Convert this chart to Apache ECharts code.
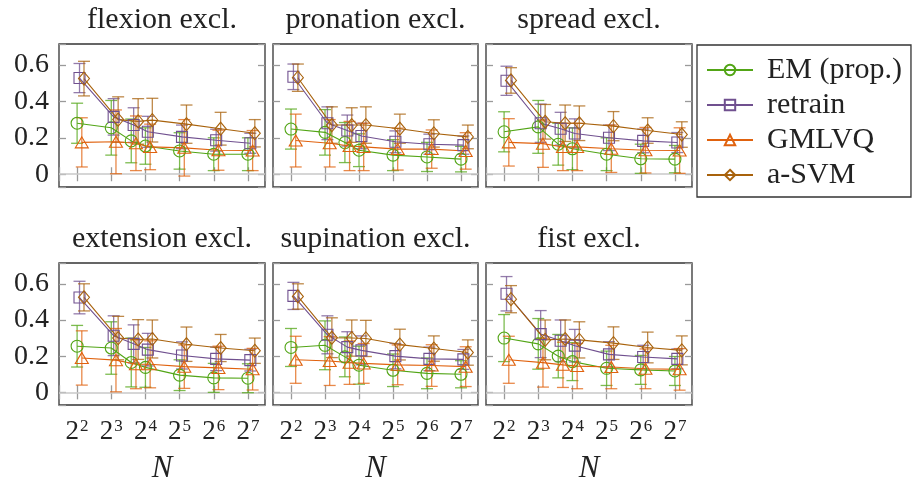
<!DOCTYPE html>
<html>
<head>
<meta charset="utf-8">
<script src="https://cdn.jsdelivr.net/npm/echarts@6/dist/echarts.min.js"></script>
<style>
html, body { margin: 0; background: #fff; }
#container { width: 914px; height: 484px; }
</style>
</head>
<body>
<div id="container"></div>
<script>
// sample sizes and methods
const N = [4, 8, 12, 16, 32, 64, 128];
const methods = ['EM (prop.)', 'retrain', 'GMLVQ', 'a-SVM'];
const colors = ['#52a516', '#70508f', '#e0620e', '#a8620c'];
const symbols = ['circle', 'rect', 'triangle', 'diamond'];
const symbolSizes = [12, 11, [13, 11], [11, 13]];
const dodge = [1, 1.05, 1.1, 1.15];   // small horizontal shift per method
const titles = ['flexion excl.', 'pronation excl.', 'spread excl.',
                'extension excl.', 'supination excl.', 'fist excl.'];

// mean error, rows = methods (EM, retrain, GMLVQ, a-SVM)
const flexionMean = [
    [0.28, 0.255, 0.183, 0.155, 0.128, 0.11, 0.11],
    [0.528, 0.315, 0.27, 0.233, 0.205, 0.187, 0.17],
    [0.175, 0.178, 0.17, 0.15, 0.145, 0.132, 0.13],
    [0.525, 0.30, 0.29, 0.297, 0.275, 0.25, 0.225]
];
const flexionSd = [
    [0.11, 0.15, 0.12, 0.10, 0.10, 0.09, 0.09],
    [0.08, 0.10, 0.095, 0.085, 0.065, 0.06, 0.055],
    [0.135, 0.175, 0.15, 0.125, 0.155, 0.11, 0.11],
    [0.095, 0.125, 0.125, 0.12, 0.105, 0.09, 0.075]
];
const pronationMean = [
    [0.248, 0.23, 0.174, 0.132, 0.105, 0.095, 0.083],
    [0.535, 0.28, 0.24, 0.21, 0.178, 0.165, 0.16],
    [0.185, 0.17, 0.155, 0.15, 0.138, 0.138, 0.128],
    [0.53, 0.27, 0.27, 0.27, 0.25, 0.224, 0.205]
];
const pronationSd = [
    [0.11, 0.125, 0.11, 0.09, 0.085, 0.08, 0.07],
    [0.07, 0.09, 0.085, 0.07, 0.06, 0.055, 0.05],
    [0.145, 0.13, 0.135, 0.13, 0.115, 0.105, 0.10],
    [0.075, 0.10, 0.095, 0.10, 0.08, 0.075, 0.065]
];
const spreadMean = [
    [0.233, 0.26, 0.165, 0.14, 0.11, 0.085, 0.083],
    [0.513, 0.28, 0.25, 0.224, 0.20, 0.183, 0.174],
    [0.175, 0.168, 0.15, 0.15, 0.14, 0.132, 0.13],
    [0.515, 0.288, 0.28, 0.28, 0.264, 0.24, 0.218]
];
const spreadSd = [
    [0.11, 0.145, 0.115, 0.115, 0.09, 0.08, 0.075],
    [0.08, 0.105, 0.09, 0.08, 0.07, 0.065, 0.055],
    [0.13, 0.13, 0.13, 0.13, 0.13, 0.125, 0.125],
    [0.07, 0.095, 0.10, 0.095, 0.08, 0.07, 0.07]
];
const extensionMean = [
    [0.255, 0.245, 0.165, 0.138, 0.095, 0.08, 0.078],
    [0.524, 0.313, 0.268, 0.236, 0.204, 0.185, 0.178],
    [0.19, 0.178, 0.155, 0.155, 0.142, 0.135, 0.128],
    [0.525, 0.30, 0.292, 0.295, 0.266, 0.245, 0.23]
];
const extensionSd = [
    [0.115, 0.145, 0.135, 0.11, 0.085, 0.08, 0.08],
    [0.09, 0.11, 0.105, 0.09, 0.075, 0.065, 0.06],
    [0.15, 0.175, 0.135, 0.13, 0.12, 0.12, 0.115],
    [0.075, 0.12, 0.11, 0.105, 0.095, 0.075, 0.07]
];
const supinationMean = [
    [0.248, 0.26, 0.196, 0.15, 0.122, 0.105, 0.10],
    [0.533, 0.318, 0.25, 0.232, 0.20, 0.185, 0.182],
    [0.18, 0.173, 0.164, 0.16, 0.152, 0.148, 0.142],
    [0.53, 0.302, 0.30, 0.298, 0.264, 0.242, 0.22]
];
const supinationSd = [
    [0.105, 0.135, 0.11, 0.105, 0.09, 0.085, 0.075],
    [0.075, 0.105, 0.085, 0.08, 0.07, 0.065, 0.055],
    [0.13, 0.135, 0.12, 0.11, 0.11, 0.115, 0.11],
    [0.07, 0.11, 0.10, 0.10, 0.085, 0.07, 0.07]
];
const fistMean = [
    [0.30, 0.268, 0.20, 0.17, 0.133, 0.124, 0.118],
    [0.545, 0.322, 0.285, 0.258, 0.21, 0.195, 0.185],
    [0.18, 0.164, 0.152, 0.145, 0.14, 0.13, 0.127],
    [0.515, 0.29, 0.295, 0.29, 0.272, 0.248, 0.232]
];
const fistSd = [
    [0.13, 0.14, 0.12, 0.105, 0.095, 0.08, 0.08],
    [0.095, 0.13, 0.115, 0.09, 0.07, 0.065, 0.055],
    [0.13, 0.135, 0.125, 0.125, 0.12, 0.11, 0.115],
    [0.075, 0.11, 0.105, 0.10, 0.09, 0.085, 0.08]
];

const panelMeans = [flexionMean, pronationMean, spreadMean, extensionMean, supinationMean, fistMean];
const panelSds = [flexionSd, pronationSd, spreadSd, extensionSd, supinationSd, fistSd];

window.onload = function () {
    const dom = document.getElementById('container');
    const myChart = echarts.init(dom, null, { renderer: 'canvas' });
    const font = "'Liberation Serif', 'DejaVu Serif', serif";

    const colLeft = [59, 273, 486];
    const colWidth = [206, 205, 206];
    const rowTop = [44, 263];
    const rowHeight = [143, 142];
    const titleTop = [5, 224];

    const xMin = Math.pow(2, 1.47), xMax = Math.pow(2, 7.5);
    const yMin = -0.07, yMax = 0.715;

    const tickStyle = { show: true, inside: true, length: 7, lineStyle: { color: '#9a9a9a', width: 1.3 } };

    const grid = [], xAxis = [], yAxis = [], title = [];
    const lineSeries = [], errSeries = [];

    for (let p = 0; p < 6; p++) {
        const row = Math.floor(p / 3), col = p % 3;
        grid.push({
            left: colLeft[col], top: rowTop[row], width: colWidth[col], height: rowHeight[row],
            outerBoundsMode: 'none', containLabel: false,
            show: true, borderColor: '#333', borderWidth: 1.3, backgroundColor: 'transparent'
        });
        title.push({
            text: titles[p], left: colLeft[col] + colWidth[col] / 2, top: titleTop[row],
            textAlign: 'center', padding: 0,
            textStyle: { fontFamily: font, fontSize: 30, fontWeight: 'normal', color: '#222' }
        });
        const xBase = {
            type: 'log', logBase: 2, min: xMin, max: xMax, gridIndex: p,
            axisLine: { show: false }, axisTick: tickStyle, splitLine: { show: false }
        };
        xAxis.push(Object.assign({}, xBase, {
            position: 'bottom',
            name: row === 1 ? 'N' : '',
            nameLocation: 'middle', nameGap: 48,
            nameTextStyle: { fontFamily: font, fontStyle: 'italic', fontSize: 31, color: '#222' },
            axisLabel: {
                show: row === 1, margin: 13, color: '#222',
                formatter: function (v) {
                    const k = Math.log2(v);
                    if (Math.abs(k - Math.round(k)) > 1e-6 || k < 1.9) return '';
                    return '{b|2}{s|' + Math.round(k) + '}';
                },
                rich: {
                    b: { fontFamily: font, fontSize: 27, color: '#222', lineHeight: 28 },
                    s: { fontFamily: font, fontSize: 17, color: '#222', lineHeight: 28, verticalAlign: 'top', padding: [0, 0, 8, 1] }
                }
            }
        }));
        xAxis.push(Object.assign({}, xBase, { position: 'top', axisLabel: { show: false } }));
        const yBase = {
            type: 'value', min: yMin, max: yMax, gridIndex: p,
            axisLine: { show: false }, axisTick: tickStyle, splitLine: { show: false }
        };
        yAxis.push(Object.assign({}, yBase, {
            position: 'left',
            axisLabel: {
                show: col === 0, margin: 10, color: '#222', fontFamily: font, fontSize: 28,
                formatter: function (v) {
                    const r = Math.round(v * 5) / 5;
                    if (Math.abs(v - r) > 1e-6) return '';
                    return r === 0 ? '0' : r.toFixed(1);
                }
            }
        }));
        yAxis.push(Object.assign({}, yBase, { position: 'right', axisLabel: { show: false } }));

        for (let m = 0; m < 4; m++) {
            const mean = panelMeans[p][m], sd = panelSds[p][m];
            const s = {
                type: 'line', name: methods[m],
                xAxisIndex: 2 * p, yAxisIndex: 2 * p,
                data: N.map((n, j) => [n * dodge[m], mean[j]]),
                symbol: symbols[m], symbolSize: symbolSizes[m],
                itemStyle: { color: 'rgba(255,255,255,0)', borderColor: colors[m], borderWidth: 1.1 },
                lineStyle: { color: colors[m], width: 1.1 },
                z: 3, animation: false
            };
            if (m === 0) {
                s.markLine = {
                    silent: true, symbol: 'none', label: { show: false },
                    lineStyle: { color: '#c8c8c8', type: 'solid', width: 1.6 },
                    data: [{ yAxis: 0 }], z: 1, animation: false
                };
            }
            lineSeries.push(s);
            errSeries.push({
                type: 'custom', name: methods[m] + ' err',
                xAxisIndex: 2 * p, yAxisIndex: 2 * p,
                data: N.map((n, j) => [n * dodge[m], mean[j] - sd[j], mean[j] + sd[j]]),
                encode: { x: 0, y: [1, 2] },
                z: 2, animation: false, silent: true,
                renderItem: function (params, api) {
                    const x = api.value(0);
                    const lo = api.coord([x, api.value(1)]);
                    const hi = api.coord([x, api.value(2)]);
                    const w = 6;
                    const st = { stroke: colors[m], lineWidth: 1.3, opacity: 0.75 };
                    return {
                        type: 'group', children: [
                            { type: 'line', shape: { x1: lo[0], y1: lo[1], x2: hi[0], y2: hi[1] }, style: st },
                            { type: 'line', shape: { x1: lo[0] - w, y1: lo[1], x2: lo[0] + w, y2: lo[1] }, style: st },
                            { type: 'line', shape: { x1: hi[0] - w, y1: hi[1], x2: hi[0] + w, y2: hi[1] }, style: st }
                        ]
                    };
                }
            });
        }
    }

    const option = {
        animation: false,
        backgroundColor: '#fff',
        title: title,
        grid: grid,
        xAxis: xAxis,
        yAxis: yAxis,
        legend: {
            data: methods, orient: 'vertical', left: 697, top: 45,
            padding: [10, 9, 7, 9], borderColor: '#333', borderWidth: 1.3,
            itemWidth: 46, itemHeight: 13, itemGap: 5,
            textStyle: { fontFamily: font, fontSize: 30, color: '#222', padding: [0, 0, 0, 9] }
        },
        series: lineSeries.concat(errSeries)
    };
    myChart.setOption(option);
};
</script>
</body>
</html>
